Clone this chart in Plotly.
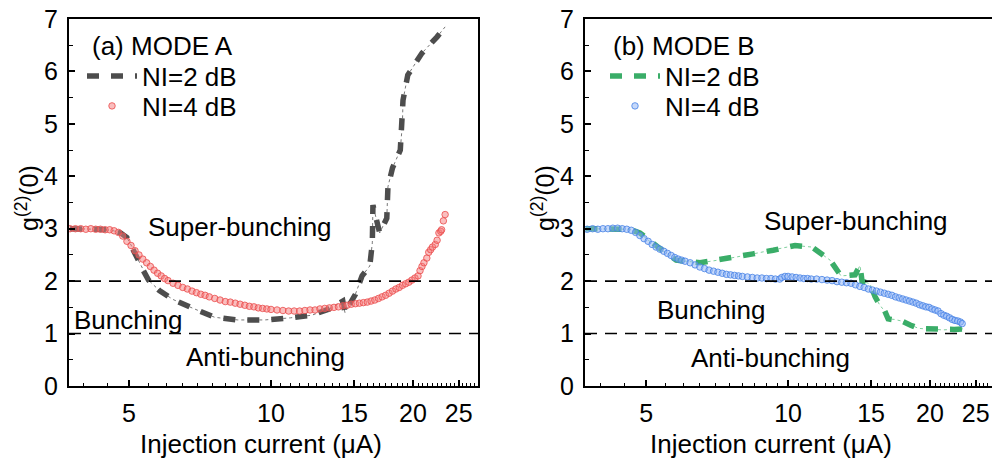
import plotly.graph_objects as go

# ---------------- data ----------------
# Panel (a) MODE A, NI = 2 dB (dashed dark grey)
a_ni2_x = [3.75, 4.0, 4.3, 4.6, 4.8, 4.95, 5.1, 5.2, 5.35, 5.5, 5.8, 6.2, 6.8, 7.6, 8.5, 9.7,
           11.0, 12.2, 13.3, 14.2, 14.35, 15.1, 15.6, 16.2, 16.4, 16.45, 17.0, 17.6, 17.7,
           18.1, 18.8, 19.0, 19.05, 19.5, 20.9, 22.5, 23.4]
a_ni2_y = [3.00, 3.00, 2.99, 2.97, 2.92, 2.83, 2.62, 2.45, 2.22, 2.02, 1.82, 1.65, 1.49, 1.31,
           1.26, 1.26, 1.30, 1.35, 1.47, 1.62, 1.40, 1.75, 2.10, 2.29, 2.73, 3.45, 2.92, 3.20,
           3.80, 4.16, 4.50, 5.02, 5.45, 5.93, 6.35, 6.66, 6.85]

# Panel (a) MODE A, NI = 4 dB (red dots)
a_ni4_x = [3.75, 3.85, 3.95, 4.05, 4.15, 4.25, 4.35, 4.45, 4.55, 4.65, 4.75, 4.85, 4.95, 5.05,
           5.15, 5.25, 5.35, 5.45, 5.55, 5.65, 5.75, 5.85, 5.95, 6.05, 6.2, 6.35, 6.5, 6.65,
           6.8, 6.95, 7.1, 7.25, 7.4, 7.6, 7.8, 8.0, 8.2, 8.4, 8.6, 8.8, 9.0, 9.2, 9.4, 9.6,
           9.8, 10.0, 10.3, 10.6, 10.9, 11.2, 11.5, 11.8, 12.1, 12.4, 12.7, 13.0, 13.3, 13.6,
           13.9, 14.2, 14.5, 14.8, 15.1, 15.4, 15.7, 16.0, 16.3, 16.6, 16.9, 17.2, 17.5, 17.8,
           18.1, 18.4, 18.7, 19.0, 19.3, 19.6, 19.9, 20.2, 20.5, 20.7, 20.9, 21.1, 21.4, 21.6,
           21.8, 22.0, 22.3, 22.5, 22.7, 22.9, 23.0, 23.2, 23.4]
a_ni4_y = [3.00, 3.00, 3.00, 2.99, 3.00, 2.99, 2.99, 2.98, 2.98, 2.96, 2.93, 2.86, 2.76, 2.68,
           2.58, 2.50, 2.42, 2.35, 2.28, 2.21, 2.15, 2.10, 2.05, 2.01, 1.96, 1.92, 1.88, 1.85,
           1.81, 1.78, 1.75, 1.73, 1.70, 1.67, 1.64, 1.61, 1.60, 1.58, 1.56, 1.54, 1.52, 1.51,
           1.49, 1.48, 1.47, 1.46, 1.45, 1.44, 1.43, 1.43, 1.43, 1.44, 1.45, 1.45, 1.47, 1.48,
           1.49, 1.50, 1.51, 1.53, 1.54, 1.56, 1.57, 1.58, 1.59, 1.60, 1.62, 1.64, 1.67, 1.70,
           1.73, 1.77, 1.81, 1.85, 1.88, 1.92, 1.95, 1.98, 2.02, 2.06, 2.10, 2.20, 2.28, 2.35,
           2.44, 2.55, 2.60, 2.65, 2.70, 2.78, 2.92, 2.95, 2.98, 3.15, 3.27]

# Panel (b) MODE B, NI = 2 dB (dashed green)
b_ni2_x = [3.72, 4.0, 4.3, 4.6, 4.85, 5.1, 5.35, 5.6, 5.79, 6.51, 7.35, 8.43, 9.30, 10.35,
           11.24, 12.28, 12.95, 13.87, 14.21, 14.35, 14.92, 15.3, 15.7, 16.0, 16.3, 16.8,
           17.4, 18.2, 18.9, 19.5, 21.3, 22.5, 23.5]
b_ni2_y = [3.00, 3.00, 3.00, 2.99, 2.92, 2.75, 2.62, 2.50, 2.40, 2.35, 2.42, 2.52, 2.59, 2.68,
           2.65, 2.40, 2.10, 2.12, 2.30, 2.00, 1.95, 1.70, 1.52, 1.45, 1.28, 1.27, 1.24, 1.16,
           1.10, 1.09, 1.07, 1.08, 1.09]

# Panel (b) MODE B, NI = 4 dB (blue dots)
b_ni4_x = [3.75, 3.85, 3.95, 4.05, 4.15, 4.25, 4.35, 4.45, 4.55, 4.65, 4.75, 4.85, 4.95, 5.05,
           5.15, 5.25, 5.35, 5.45, 5.55, 5.65, 5.75, 5.85, 5.95, 6.05, 6.2, 6.35, 6.5, 6.65,
           6.8, 6.95, 7.1, 7.25, 7.4, 7.55, 7.7, 7.85, 8.0, 8.2, 8.4, 8.6, 8.8, 9.0, 9.2, 9.4,
           9.6, 9.7, 9.85, 10.0, 10.2, 10.4, 10.6, 10.8, 11.0, 11.2, 11.5, 11.8, 12.1, 12.4,
           12.7, 13.0, 13.3, 13.6, 13.9, 14.2, 14.5, 14.8, 15.1, 15.4, 15.7, 16.0, 16.3, 16.6,
           16.9, 17.2, 17.5, 17.8, 18.1, 18.4, 18.7, 19.0, 19.3, 19.6, 19.9, 20.2, 20.5, 20.8,
           21.1, 21.4, 21.7, 22.0, 22.3, 22.6, 22.9, 23.2, 23.4]
b_ni4_y = [2.99, 3.00, 2.99, 3.00, 3.00, 3.01, 3.01, 3.00, 2.99, 2.97, 2.93, 2.87, 2.81, 2.76,
           2.70, 2.65, 2.61, 2.57, 2.53, 2.49, 2.45, 2.42, 2.40, 2.38, 2.35, 2.31, 2.27, 2.24,
           2.21, 2.19, 2.17, 2.15, 2.13, 2.12, 2.11, 2.10, 2.09, 2.08, 2.07, 2.06, 2.06, 2.05,
           2.05, 2.04, 2.04, 2.07, 2.09, 2.09, 2.08, 2.07, 2.06, 2.05, 2.05, 2.04, 2.04, 2.03,
           2.02, 2.01, 1.99, 1.98, 1.97, 1.96, 1.93, 1.90, 1.88, 1.85, 1.83, 1.81, 1.79, 1.77,
           1.75, 1.73, 1.70, 1.68, 1.66, 1.64, 1.62, 1.60, 1.58, 1.55, 1.53, 1.51, 1.50, 1.47,
           1.45, 1.43, 1.38, 1.35, 1.33, 1.30, 1.27, 1.25, 1.24, 1.22, 1.19]

x_tick_vals = [5, 10, 15, 20, 25]
x_tick_text = ["5", "10", "15", "20", "25"]
y_tick_vals = [0, 1, 2, 3, 4, 5, 6, 7]
y_tick_text = ["0", "1", "2", "3", "4", "5", "6", "7"]
region_labels = ["Super-bunching", "Bunching", "Anti-bunching"]
panel_titles = ["(a) MODE A", "(b) MODE B"]
boundaries = [1, 2]

# ---------------- layout helpers ----------------
W, H = 992, 459
T, B = 19, 73
FONT = "Liberation Sans, Arial, sans-serif"


def px(x):
    return x / W


def py(y):
    return (H - B - y) / (H - T - B)


x_minor = [v / 2 for v in range(8, 55) if (v / 2) not in x_tick_vals]
y_minor = [v + 0.5 for v in range(0, 7)]

fig = go.Figure()

GREY = "#4d4d4d"
GREEN = "#3aad68"

# Panel (a)
fig.add_trace(go.Scatter(x=a_ni2_x, y=a_ni2_y, mode="lines", xaxis="x", yaxis="y",
                         line=dict(color="#777777", width=1, dash="dot"),
                         showlegend=False, hoverinfo="skip"))
fig.add_trace(go.Scatter(x=a_ni2_x, y=a_ni2_y, mode="lines", xaxis="x", yaxis="y",
                         name="NI=2 dB", legend="legend",
                         line=dict(color=GREY, width=5.5, dash="12px,12px")))
fig.add_trace(go.Scatter(x=a_ni4_x, y=a_ni4_y, mode="markers", xaxis="x", yaxis="y",
                         name="NI=4 dB", legend="legend3",
                         marker=dict(size=6.5, color="rgba(245,125,125,0.5)",
                                     line=dict(color="rgba(235,75,75,0.8)", width=1))))

# Panel (b)
fig.add_trace(go.Scatter(x=b_ni2_x, y=b_ni2_y, mode="lines", xaxis="x2", yaxis="y2",
                         line=dict(color="#7fcf9d", width=1, dash="dot"),
                         showlegend=False, hoverinfo="skip"))
fig.add_trace(go.Scatter(x=b_ni2_x, y=b_ni2_y, mode="lines", xaxis="x2", yaxis="y2",
                         name="NI=2 dB", legend="legend2",
                         line=dict(color=GREEN, width=5.5, dash="12px,12px")))
fig.add_trace(go.Scatter(x=b_ni4_x, y=b_ni4_y, mode="markers", xaxis="x2", yaxis="y2",
                         name="NI=4 dB", legend="legend4",
                         marker=dict(size=6.5, color="rgba(140,178,245,0.5)",
                                     line=dict(color="rgba(70,130,230,0.8)", width=1))))

axis_common = dict(
    showline=True, linecolor="black", linewidth=2,
    ticks="inside", ticklen=6, tickwidth=1.5, tickcolor="black",
    showgrid=False, zeroline=False,
    tickfont=dict(family=FONT, size=25, color="black"),
)

xaxis_common = dict(axis_common, type="log", tickmode="array",
                    tickvals=x_tick_vals, ticktext=x_tick_text,
                    ticklabelstandoff=4,
                    minor=dict(tickmode="array", tickvals=x_minor, ticks="inside",
                               ticklen=3.5, tickwidth=1.2, tickcolor="black", showgrid=False))
yaxis_common = dict(axis_common, range=[0, 7], tickmode="array",
                    tickvals=y_tick_vals, ticktext=y_tick_text,
                    ticklabelstandoff=4,
                    minor=dict(tickmode="array", tickvals=y_minor, ticks="inside",
                               ticklen=3.5, tickwidth=1.2, tickcolor="black", showgrid=False))

LEG_FONT = dict(family=FONT, size=26, color="black")
legend_common = dict(xanchor="left", yanchor="middle", bgcolor="rgba(0,0,0,0)",
                     itemwidth=50, tracegroupgap=0, font=LEG_FONT)

fig.update_layout(
    width=W, height=H,
    margin=dict(l=0, r=0, t=T, b=B),
    paper_bgcolor="white", plot_bgcolor="white",
    font=dict(family=FONT, size=26, color="black"),
    xaxis=dict(xaxis_common, domain=[px(69), px(478)], range=[0.5718, 1.4389],
               mirror=True, anchor="y"),
    yaxis=dict(yaxis_common, domain=[0, 1], mirror=True, anchor="x"),
    xaxis2=dict(xaxis_common, domain=[px(585), 1.0], range=[0.5694, 1.4325],
                mirror=True, anchor="y2"),
    yaxis2=dict(yaxis_common, domain=[0, 1], mirror=False, anchor="x2"),
    legend=dict(legend_common, x=px(82), y=py(76)),
    legend3=dict(legend_common, x=px(82), y=py(106)),
    legend2=dict(legend_common, x=px(605), y=py(76)),
    legend4=dict(legend_common, x=px(605), y=py(106)),
)

# boundary dashed lines
for xr, yr in (("x", "y"), ("x2", "y2")):
    for b in boundaries:
        fig.add_shape(type="line", xref=f"{xr} domain", yref=yr, x0=0, x1=1, y0=b, y1=b,
                      line=dict(color="black", width=1.6, dash="12px,8px"))

ann_font = dict(family=FONT, size=26, color="black")
annots = [
    (region_labels[0], 240, 227), (region_labels[1], 128, 320), (region_labels[2], 265, 357),
    (region_labels[0], 856, 221), (region_labels[1], 711, 310), (region_labels[2], 770, 358),
]
for text, xp, yp in annots:
    fig.add_annotation(text=text, xref="paper", yref="paper", x=px(xp), y=py(yp),
                       showarrow=False, font=ann_font, xanchor="center", yanchor="middle")

# panel titles (top of legends)
for text, xl in zip(panel_titles, (90, 611)):
    fig.add_annotation(text=text, xref="paper", yref="paper", x=px(xl), y=py(46),
                       showarrow=False, font=ann_font, xanchor="left", yanchor="middle")

# axis titles
for xc in (261, 771):
    fig.add_annotation(text="Injection current (μA)", xref="paper", yref="paper",
                       x=px(xc), y=py(444), showarrow=False, font=ann_font,
                       xanchor="center", yanchor="middle")
for xc in (27, 543):
    fig.add_annotation(text="g<sup>(2)</sup>(0)", xref="paper", yref="paper",
                       x=px(xc), y=py(198), showarrow=False,
                       font=dict(family=FONT, size=25, color="black"), textangle=-90,
                       xanchor="center", yanchor="middle")

fig.write_html("out.html", config={"displayModeBar": False},
               post_script="document.body.style.margin='0';document.body.style.overflow='hidden';")
